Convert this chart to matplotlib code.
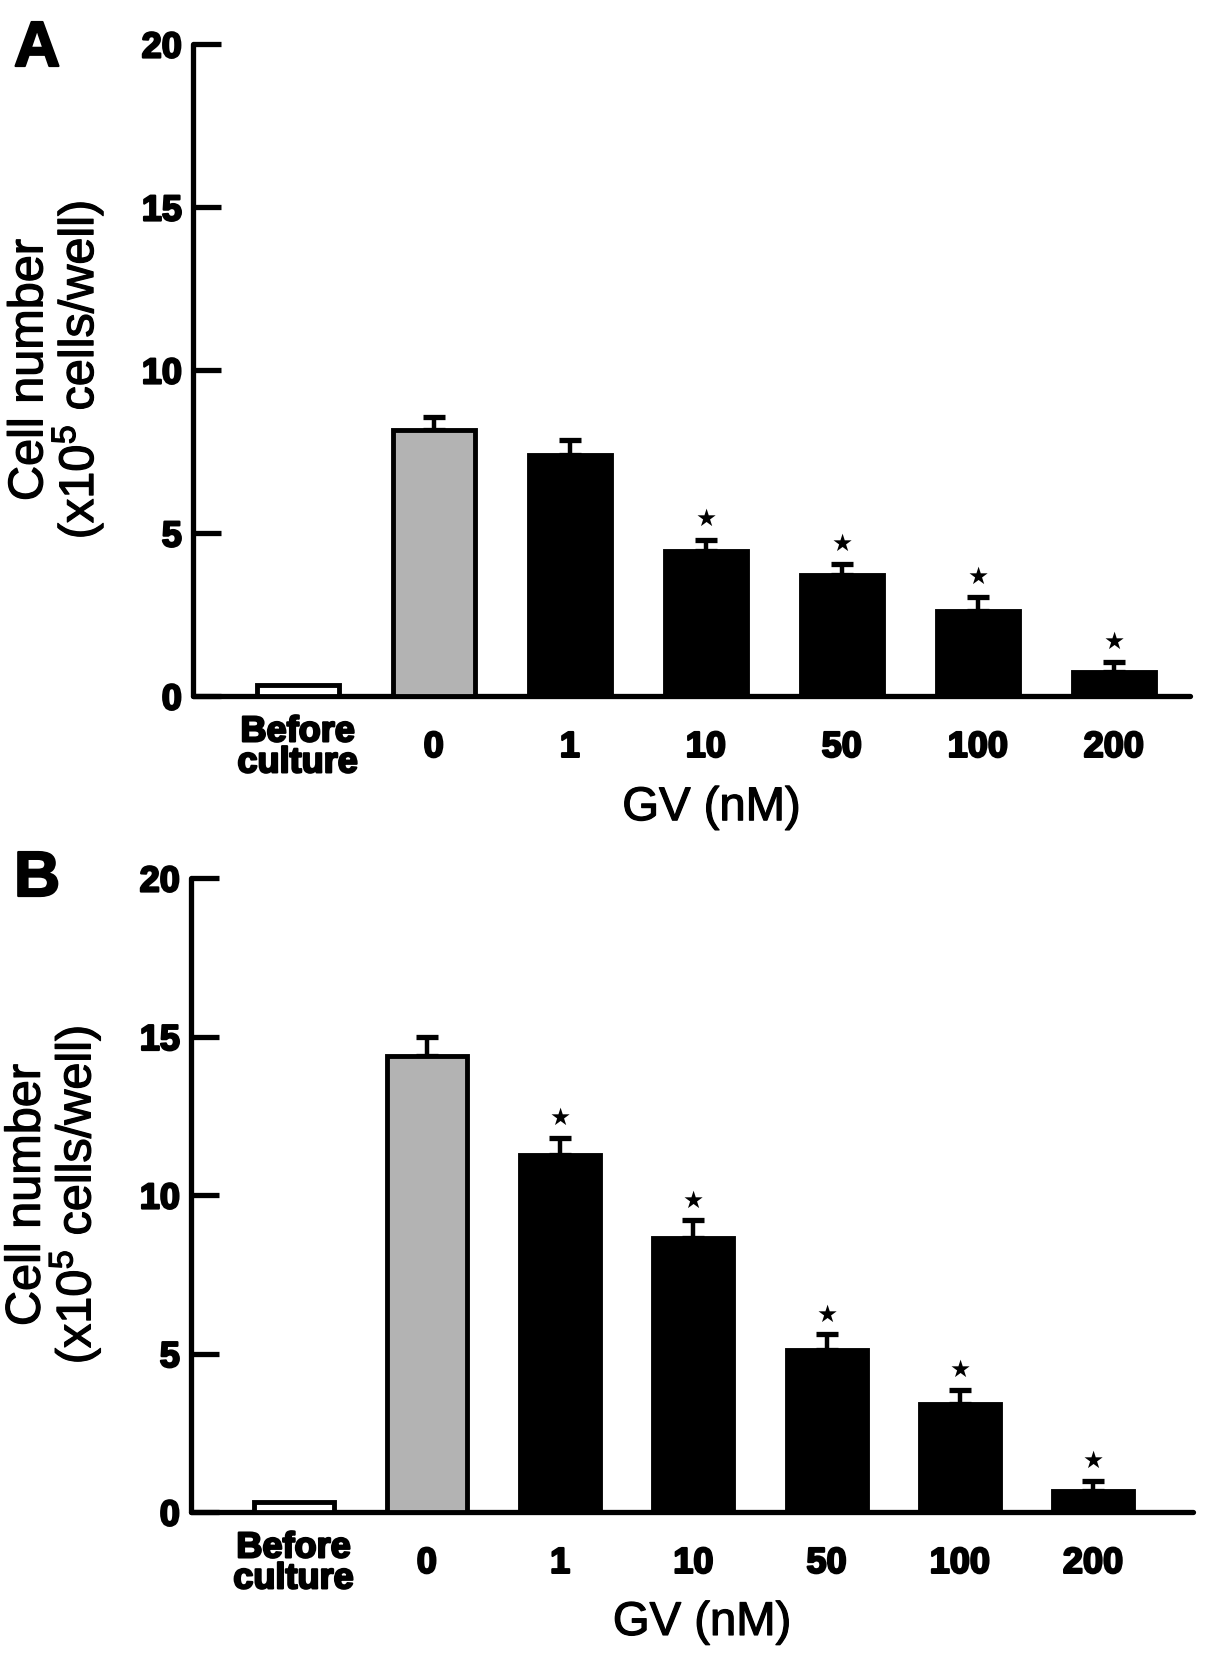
import matplotlib
matplotlib.use("Agg")
import matplotlib.pyplot as plt
import matplotlib.patheffects as pe

plt.rcParams['font.family'] = ['Liberation Sans', 'DejaVu Sans']

groups = ["Before\nculture", "0", "1", "10", "50", "100", "200"]
colors = ["white", "#b3b3b3", "black", "black", "black", "black", "black"]

# panel A
vals_a = [0.35, 8.15, 7.4, 4.45, 3.7, 2.6, 0.74]
err_a = [0.0, 0.4, 0.45, 0.35, 0.35, 0.43, 0.3]
star_a = [False, False, False, True, True, True, True]

# panel B
vals_b = [0.3, 14.4, 11.25, 8.65, 5.1, 3.4, 0.65]
err_b = [0.0, 0.6, 0.55, 0.55, 0.5, 0.45, 0.33]
star_b = [False, False, True, True, True, True, True]

fig = plt.figure(figsize=(12.05, 16.61), dpi=100)
W, H = 1205.0, 1661.0

heavy = [pe.withStroke(linewidth=1.6, foreground="black")]
thick = [pe.withStroke(linewidth=0.9, foreground="black")]


def panel(rect, vals, errs, stars, xmax, letter, letter_y, xlab_xy):
    ax = fig.add_axes(rect)
    x = list(range(len(vals)))
    ax.bar(x, vals, width=0.6, color=colors, edgecolor="black", linewidth=3.5, zorder=3)
    ax.errorbar(x[1:], vals[1:], yerr=[[0] * (len(x) - 1), errs[1:]], fmt="none",
                ecolor="black", elinewidth=3.2, capsize=8, capthick=3.8, zorder=2)
    for i in x:
        if stars[i]:
            ax.text(i, vals[i] + errs[i] + 0.62, "\u2605", ha="center", va="center",
                    fontsize=17, family="DejaVu Sans", color="black")
    ax.set_xlim(-0.77, xmax)
    ax.set_ylim(0, 20)
    for s in ["top", "right"]:
        ax.spines[s].set_visible(False)
    for s in ["left", "bottom"]:
        ax.spines[s].set_linewidth(3.8)
        ax.spines[s].set_capstyle("round")
    ax.set_yticks([0, 5, 10, 15, 20])
    ax.set_yticklabels(["0", "5", "10", "15", "20"], fontsize=26, fontweight="bold")
    ax.tick_params(axis="y", direction="in", length=20, width=3.8, pad=8)
    ax.set_xticks(x)
    ax.set_xticklabels(groups, fontsize=26, fontweight="bold", linespacing=0.85)
    ax.tick_params(axis="x", length=0, pad=37)
    for lab in ax.get_xticklabels():
        lab.set_verticalalignment("center")
        lab.set_path_effects(heavy)
    for lab in ax.get_yticklabels():
        lab.set_path_effects(heavy)
    ax.text(-0.137, 0.5, "Cell number\n(x10$\\mathregular{^5}$ cells/well)",
            transform=ax.transAxes, rotation=90, ha="center", va="center",
            fontsize=35, linespacing=0.95, path_effects=thick)
    ax.text(xlab_xy[0], xlab_xy[1], "GV (nM)", transform=ax.transAxes,
            ha="center", va="center", fontsize=34, path_effects=thick)
    fig.text(14 / W, 1 - letter_y / H, letter, fontsize=46, fontweight="bold",
             ha="left", va="baseline", path_effects=heavy)
    return ax


panel([193 / W, 1 - 696 / H, 997 / W, 652 / H], vals_a, err_a, star_a, 6.56, "A", 66,
      (0.52, -0.172))
panel([191 / W, 1 - 1512 / H, 1002 / W, 634 / H], vals_b, err_b, star_b, 6.75, "B", 896,
      (0.51, -0.175))

fig.savefig("out.png", dpi=100)
